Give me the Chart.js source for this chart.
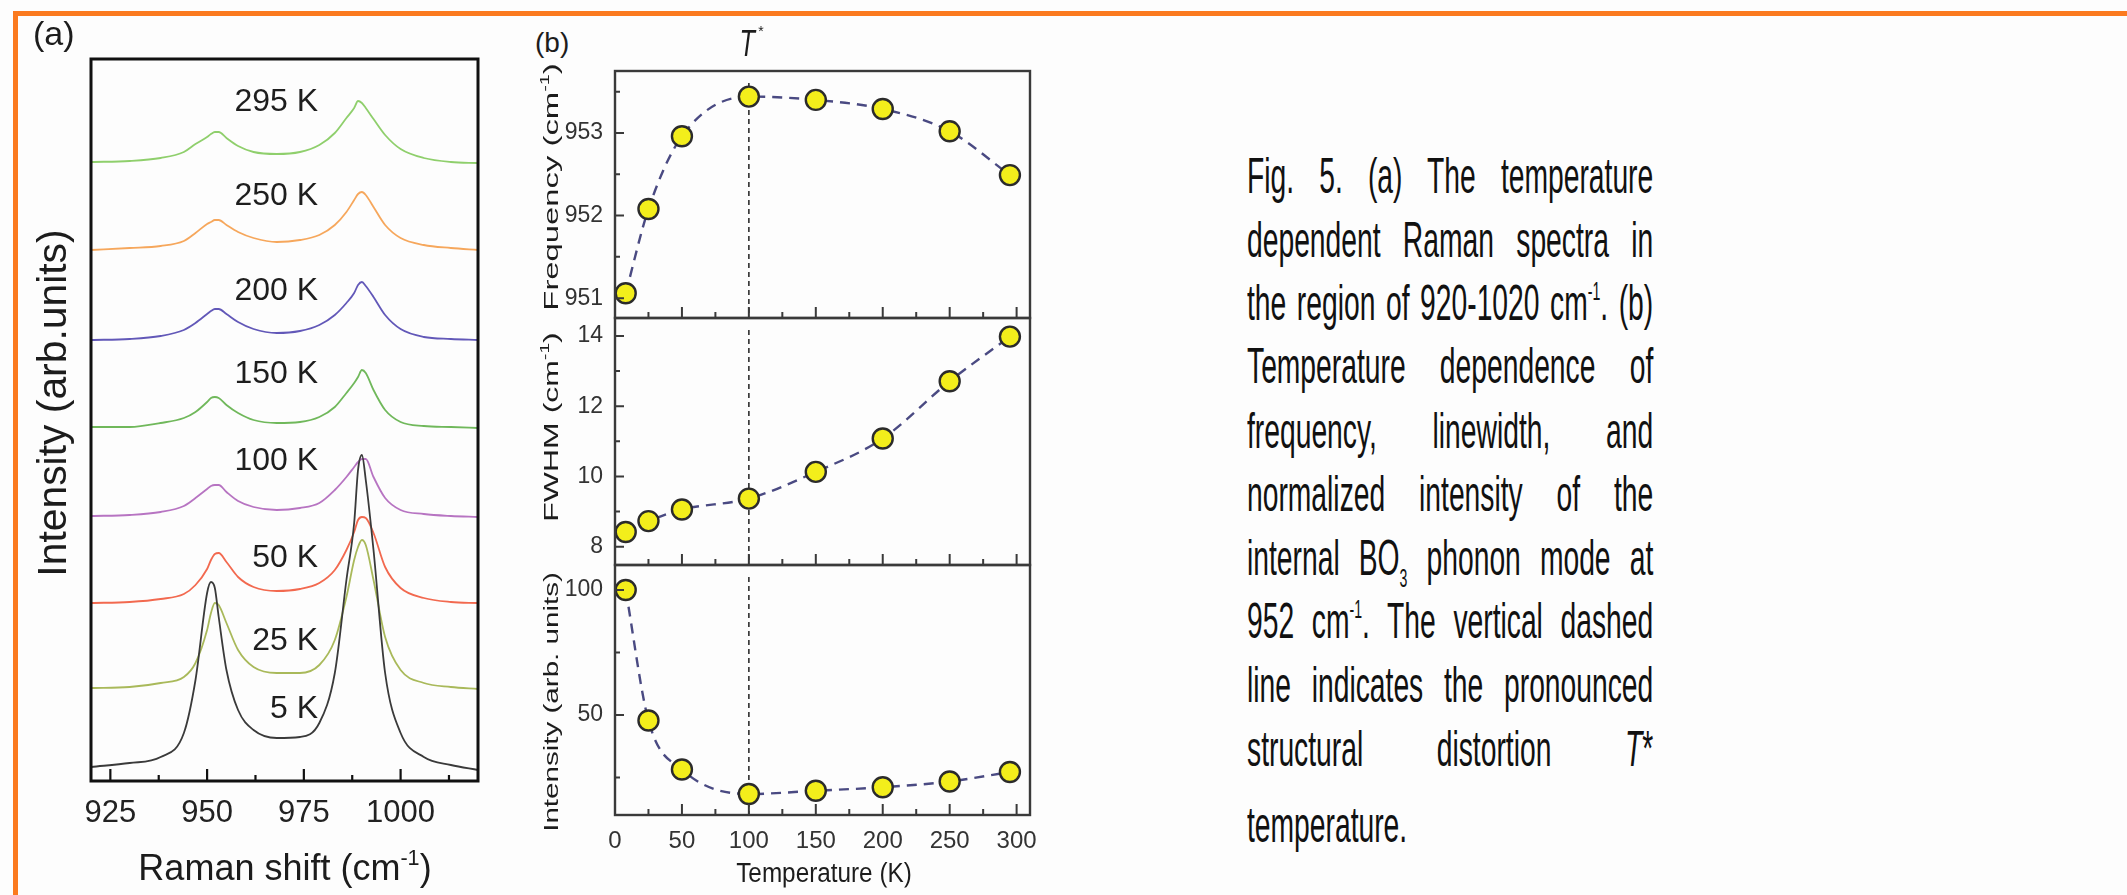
<!DOCTYPE html>
<html>
<head>
<meta charset="utf-8">
<title>Fig. 5 - Raman spectra and BO3 mode</title>
<script src="https://cdn.jsdelivr.net/npm/chart.js@4.4.1/dist/chart.umd.min.js"></script>
<style>
  body{margin:0;width:2127px;height:895px;background:#fdfdfd;position:relative;overflow:hidden;
       font-family:"Liberation Sans",Arial,Helvetica,sans-serif;color:#1c1c1c;}
  .edge{position:absolute;background:#fb7a1f;}
  canvas{position:absolute;}
  .t{position:absolute;white-space:nowrap;line-height:1;}
  .c{transform:translate(-50%,-50%);}
  .r{transform:translate(-100%,-50%);}
  .l{transform:translate(0,-50%);}
  .sup{font-size:0.6em;position:relative;top:-0.7em;}
  .spec{font-size:32px;color:#1e1e1e;}
  .cap{position:absolute;left:1247px;width:719px;font-size:50px;line-height:50px;color:#111;
       text-align:justify;text-align-last:justify;transform:scaleX(0.565);transform-origin:0 0;white-space:normal;}
  .cap .s1{font-size:25px;position:relative;top:-20px;}
  .cap .s3{font-size:25px;position:relative;top:12px;}
</style>
</head>
<body>
<div class="edge" style="left:13px;top:11px;width:2114px;height:5px"></div>
<div class="edge" style="left:13px;top:11px;width:5px;height:884px"></div>

<canvas id="chartA" width="440" height="810" style="left:60px;top:40px"></canvas>
<canvas id="chartF" width="485" height="262" style="left:560px;top:60px"></canvas>
<canvas id="chartW" width="485" height="255" style="left:560px;top:314px"></canvas>
<canvas id="chartI" width="485" height="334" style="left:560px;top:561px"></canvas>

<!-- panel (a) text -->
<div class="t l" style="left:33px;top:33px;font-size:34px">(a)</div>
<div class="t v" data-len="347" style="left:52px;top:403px;font-size:40px">Intensity (arb.units)</div>
<div class="t c" style="left:285px;top:868px;font-size:36px">Raman shift (cm<span class="sup">-1</span>)</div>
<div class="t r spec" style="left:318px;top:100px">295 K</div>
<div class="t r spec" style="left:318px;top:194px">250 K</div>
<div class="t r spec" style="left:318px;top:289px">200 K</div>
<div class="t r spec" style="left:318px;top:372px">150 K</div>
<div class="t r spec" style="left:318px;top:459px">100 K</div>
<div class="t r spec" style="left:318px;top:556px">50 K</div>
<div class="t r spec" style="left:318px;top:639px">25 K</div>
<div class="t r spec" style="left:318px;top:707px">5 K</div>

<!-- panel (b) text -->
<div class="t l" style="left:535px;top:43px;font-size:28px">(b)</div>
<div class="t c" style="left:750px;top:44px;font-size:36px"><i style="display:inline-block;transform:scaleX(0.7)">T</i><span style="font-size:14px;position:relative;top:-20px">*</span></div>
<div class="t v" data-len="247" style="left:550px;top:187px;font-size:21px">Frequency (cm<span class="sup">-1</span>)</div>
<div class="t v" data-len="189" style="left:550px;top:427px;font-size:21px">FWHM (cm<span class="sup">-1</span>)</div>
<div class="t v" data-len="259" style="left:550px;top:702px;font-size:21px">Intensity (arb. units)</div>
<div class="t c" style="left:824px;top:873px;font-size:27px;transform:translate(-50%,-50%) scaleX(0.9)">Temperature (K)</div>

<!-- caption -->
<div class="cap" style="top:151px">Fig. 5. (a) The temperature</div>
<div class="cap" style="top:215px">dependent Raman spectra in</div>
<div class="cap" style="top:278px">the region of 920-1020 cm<span class="s1">-1</span>. (b)</div>
<div class="cap" style="top:341px">Temperature dependence of</div>
<div class="cap" style="top:406px">frequency, linewidth, and</div>
<div class="cap" style="top:469px">normalized intensity of the</div>
<div class="cap" style="top:533px">internal BO<span class="s3">3</span> phonon mode at</div>
<div class="cap" style="top:596px">952 cm<span class="s1">-1</span>. The vertical dashed</div>
<div class="cap" style="top:660px">line indicates the pronounced</div>
<div class="cap" style="top:724px">structural distortion <i>T</i>*</div>
<div class="cap" style="top:800px;text-align:left;text-align-last:left">temperature.</div>

<script>
Chart.defaults.font.family = '"Liberation Sans", Arial, Helvetica, sans-serif';
Chart.defaults.color = '#222';
Chart.defaults.animation = false;

// ---- panel (a): spectra, intensities already offset for stacking ----
const ramanShift = [920, 930, 938, 944, 947, 950, 951, 952, 953, 955, 958, 962, 968, 974,
                    979, 983, 986, 988, 989, 990, 991, 993, 996, 1000, 1006, 1013, 1020];
const spec5K   = [14, 18, 24, 48, 101, 188, 199, 193, 164, 111, 71, 51, 43, 44, 58, 108, 201, 258, 311, 326, 301, 231, 108, 48, 24, 16, 11];
const spec25K  = [93, 94, 98, 104, 118, 151, 168, 178, 176, 158, 131, 114, 108, 108, 116, 141, 184, 221, 234, 241, 236, 201, 144, 111, 98, 94, 92];
const spec50K  = [178, 179, 182, 187, 196, 212, 221, 227, 228, 219, 204, 194, 190, 192, 198, 211, 231, 249, 261, 264, 263, 248, 214, 193, 183, 179, 178];
const spec100K = [265, 266, 269, 275, 283, 292, 295, 296, 296, 289, 280, 274, 271, 273, 278, 291, 304, 314, 319, 322, 322, 304, 283, 271, 267, 265, 264];
const spec150K = [354, 354, 358, 363, 369, 379, 383, 384, 383, 376, 368, 361, 358, 359, 364, 374, 388, 398, 404, 411, 408, 391, 371, 359, 355, 354, 353];
const spec200K = [441, 442, 445, 451, 458, 467, 470, 472, 472, 467, 459, 452, 448, 450, 456, 466, 478, 488, 496, 499, 495, 484, 466, 452, 444, 442, 441];
const spec250K = [531, 533, 535, 540, 548, 557, 559, 561, 561, 556, 549, 543, 539, 541, 546, 556, 569, 581, 587, 589, 586, 574, 556, 543, 536, 533, 531];
const spec295K = [619, 620, 623, 629, 637, 644, 647, 649, 649, 643, 635, 629, 627, 629, 636, 648, 663, 673, 680, 678, 673, 662, 646, 632, 623, 619, 618];
const ramanTicks = [925, 950, 975, 1000];
const ramanMinor = [937.5, 962.5, 987.5, 1012.5];

const spectra = [spec5K, spec25K, spec50K, spec100K, spec150K, spec200K, spec250K, spec295K];
const spectraColors = ['#3a3a3a', '#a9b95a', '#f2694f', '#b774c2', '#70b85b', '#6258b8', '#f6a75c', '#8fcf6c'];

// ---- panel (b): BO3 mode vs temperature ----
const temperature = [8, 25, 50, 100, 150, 200, 250, 295];
const frequency   = [951.06, 952.08, 952.96, 953.44, 953.40, 953.29, 953.02, 952.49];
const fwhm        = [8.42, 8.73, 9.06, 9.37, 10.13, 11.08, 12.71, 13.98];
const intensity   = [100, 47.8, 28.2, 18.4, 19.7, 21.1, 23.4, 27.2];
const tStar = 100;
const tempTicks = [0, 50, 100, 150, 200, 250, 300];
const tempMinor = [25, 75, 125, 175, 225, 275];
const freqTicks = [951, 952, 953];
const freqMinor = [951.5, 952.5, 953.5];
const fwhmTicks = [8, 10, 12, 14];
const fwhmMinor = [9, 11, 13];
const intTicks = [50, 100];
const intMinor = [25, 75];

// frame, inward ticks and the T* guide line
function boxPlugin(o) {
  return {
    id: 'box',
    beforeDatasetsDraw(chart) {
      if (o.guide === undefined) return;
      const {ctx, chartArea: a, scales: {x}} = chart;
      const gx = x.getPixelForValue(o.guide);
      ctx.save();
      ctx.strokeStyle = '#2e2e2e';
      ctx.lineWidth = 1.6;
      ctx.setLineDash([5, 4]);
      ctx.beginPath();
      ctx.moveTo(gx, a.top + (o.guideFrom || 0));
      ctx.lineTo(gx, a.bottom);
      ctx.stroke();
      ctx.restore();
    },
    afterDatasetsDraw(chart) {
      const {ctx, chartArea: a, scales: {x, y}} = chart;
      ctx.save();
      ctx.strokeStyle = o.color;
      ctx.lineWidth = o.tickWidth;
      ctx.beginPath();
      const xt = (vals, len) => vals.forEach(v => {
        const p = x.getPixelForValue(v);
        ctx.moveTo(p, a.bottom); ctx.lineTo(p, a.bottom - len);
      });
      const yt = (vals, len) => vals.forEach(v => {
        const p = y.getPixelForValue(v);
        ctx.moveTo(a.left, p); ctx.lineTo(a.left + len, p);
      });
      xt(o.xMajor, o.major); xt(o.xMinor, o.minor);
      if (o.yMajor) { yt(o.yMajor, o.major - 2); yt(o.yMinor, o.minor - 1); }
      ctx.stroke();
      ctx.lineWidth = o.width;
      ctx.strokeRect(a.left, a.top, a.right - a.left, a.bottom - a.top);
      ctx.restore();
    }
  };
}

const noFrills = {legend: {display: false}, tooltip: {enabled: false}};

new Chart(document.getElementById('chartA'), {
  type: 'scatter',
  data: {
    datasets: spectra.map((s, i) => ({
      data: ramanShift.map((v, j) => ({x: v, y: s[j]})),
      showLine: true,
      borderColor: spectraColors[i],
      borderWidth: 1.8,
      pointRadius: 0,
      cubicInterpolationMode: 'monotone'
    }))
  },
  options: {
    responsive: false,
    layout: {padding: {left: 31, right: 22, top: 19, bottom: 0}, autoPadding: false},
    plugins: noFrills,
    scales: {
      x: {
        type: 'linear', min: 920, max: 1020,
        afterBuildTicks: s => { s.ticks = ramanTicks.map(v => ({value: v})); },
        ticks: {font: {size: 31}, padding: 14, color: '#222', callback: v => String(v)},
        grid: {display: false, drawTicks: false},
        border: {display: false},
        afterFit: s => { s.height = 69; s.paddingLeft = 0; s.paddingRight = 0; }
      },
      y: {display: false, min: 0, max: 722}
    }
  },
  plugins: [boxPlugin({color: '#111', width: 3, tickWidth: 2.2, major: 12, minor: 6,
                       xMajor: ramanTicks, xMinor: ramanMinor})]
});

function pointSet(vals) {
  return {
    data: temperature.map((t, i) => ({x: t, y: vals[i]})),
    showLine: true,
    borderColor: '#4a4a82',
    borderWidth: 2.4,
    borderDash: [10, 7],
    cubicInterpolationMode: 'monotone',
    pointRadius: 10,
    pointBackgroundColor: '#f3ee1b',
    pointBorderColor: '#2b2b2b',
    pointBorderWidth: 2.4,
    clip: false
  };
}

function makePanel(id, vals, yMin, yMax, yTicks, yMinor, pad, bottom) {
  const xAxis = bottom ? {
    type: 'linear', min: 0, max: 310,
    afterBuildTicks: s => { s.ticks = tempTicks.map(v => ({value: v})); },
    ticks: {font: {size: 24}, padding: 12, color: '#333'},
    grid: {display: false, drawTicks: false},
    border: {display: false},
    afterFit: s => { s.height = 80; s.paddingLeft = 0; s.paddingRight = 0; }
  } : {type: 'linear', min: 0, max: 310, display: false};
  new Chart(document.getElementById(id), {
    type: 'scatter',
    data: {datasets: [pointSet(vals)]},
    options: {
      responsive: false,
      layout: {padding: pad, autoPadding: false},
      plugins: noFrills,
      scales: {
        x: xAxis,
        y: {
          min: yMin, max: yMax,
          afterBuildTicks: s => { s.ticks = yTicks.map(v => ({value: v})); },
          ticks: {font: {size: 23}, padding: 12, color: '#333'},
          grid: {display: false, drawTicks: false},
          border: {display: false},
          afterFit: s => { s.width = 55; s.paddingTop = 0; s.paddingBottom = 0; }
        }
      }
    },
    plugins: [boxPlugin({color: '#3a3a3a', width: 2.4, tickWidth: 2, major: 11, minor: 6,
                         xMajor: tempTicks, xMinor: tempMinor, yMajor: yTicks, yMinor: yMinor,
                         guide: tStar, guideFrom: 12})]
  });
}

makePanel('chartF', frequency, 950.76, 953.75, freqTicks, freqMinor, {left: 0, right: 15, top: 11, bottom: 4}, false);
makePanel('chartW', fwhm, 7.48, 14.51, fwhmTicks, fwhmMinor, {left: 0, right: 15, top: 4, bottom: 4}, false);
makePanel('chartI', intensity, 10, 110, intTicks, intMinor, {left: 0, right: 15, top: 4, bottom: 0}, true);

// rotated axis titles, stretched to the length they take in the figure
document.querySelectorAll('.v').forEach(el => {
  const k = parseFloat(el.dataset.len) / el.offsetWidth;
  el.style.transform = 'translate(-50%,-50%) rotate(-90deg) scaleX(' + k.toFixed(3) + ')';
});
</script>
</body>
</html>
